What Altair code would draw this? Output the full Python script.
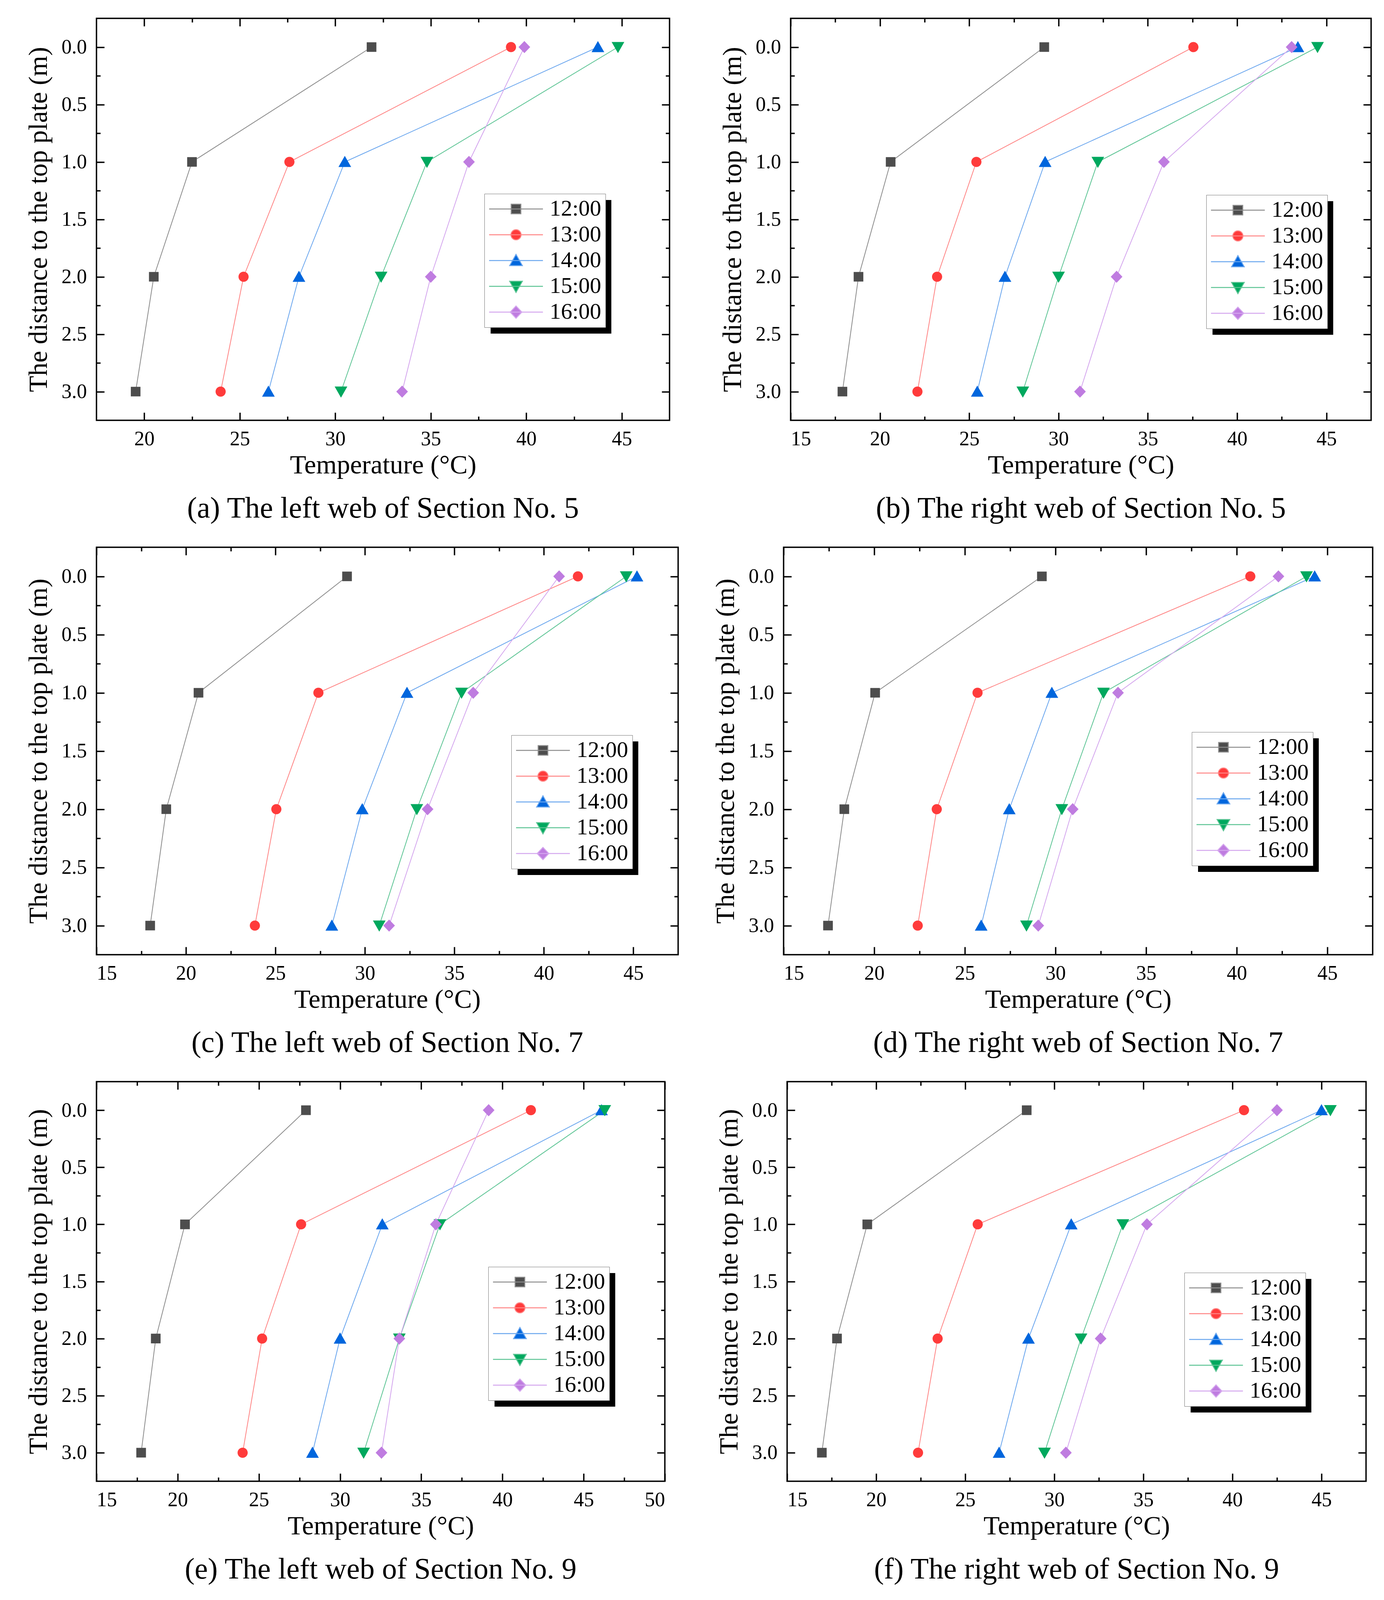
import altair as alt
import pandas as pd

# ---------------- data ----------------
times = ["12:00", "13:00", "14:00", "15:00", "16:00"]
depths = [0.0, 1.0, 2.0, 3.0]

# (a) left web, Section No. 5
a_vals = [
    [31.9, 22.5, 20.5, 19.55],
    [39.2, 27.6, 25.2, 24.0],
    [43.75, 30.5, 28.1, 26.5],
    [44.8, 34.8, 32.4, 30.3],
    [39.9, 37.0, 35.0, 33.5],
]
# (b) right web, Section No. 5
b_vals = [
    [29.2, 20.6, 18.8, 17.9],
    [37.55, 25.4, 23.2, 22.1],
    [43.4, 29.25, 27.0, 25.45],
    [44.5, 32.2, 30.0, 28.0],
    [43.05, 35.9, 33.25, 31.2],
]
# (c) left web, Section No. 7
c_vals = [
    [29.0, 20.7, 18.9, 18.0],
    [41.9, 27.4, 25.05, 23.85],
    [45.2, 32.35, 29.85, 28.15],
    [44.6, 35.4, 32.9, 30.8],
    [40.85, 36.05, 33.5, 31.35],
]
# (d) right web, Section No. 7
d_vals = [
    [29.25, 20.05, 18.35, 17.45],
    [40.75, 25.7, 23.45, 22.4],
    [44.3, 29.8, 27.45, 25.9],
    [43.85, 32.65, 30.35, 28.4],
    [42.3, 33.45, 30.95, 29.05],
]
# (e) left web, Section No. 9
e_vals = [
    [27.9, 20.45, 18.65, 17.75],
    [41.75, 27.6, 25.2, 24.0],
    [46.1, 32.6, 30.0, 28.3],
    [46.3, 36.15, 33.65, 31.45],
    [39.15, 35.9, 33.65, 32.55],
]
# (f) right web, Section No. 9
f_vals = [
    [28.45, 19.5, 17.8, 16.95],
    [40.65, 25.7, 23.45, 22.35],
    [45.0, 30.95, 28.55, 26.9],
    [45.5, 33.85, 31.5, 29.45],
    [42.5, 35.2, 32.6, 30.65],
]

captions = [
    "(a) The left web of Section No. 5",
    "(b) The right web of Section No. 5",
    "(c) The left web of Section No. 7",
    "(d) The right web of Section No. 7",
    "(e) The left web of Section No. 9",
    "(f) The right web of Section No. 9",
]

x_major_a = [20, 25, 30, 35, 40, 45]
x_minor_a = [22.5, 27.5, 32.5, 37.5, 42.5]
x_major_std = [15, 20, 25, 30, 35, 40, 45]
x_minor_std = [17.5, 22.5, 27.5, 32.5, 37.5, 42.5]
x_major_e = [15, 20, 25, 30, 35, 40, 45, 50]
x_minor_e = [17.5, 22.5, 27.5, 32.5, 37.5, 42.5, 47.5]
y_major = [0.0, 0.5, 1.0, 1.5, 2.0, 2.5, 3.0]
y_minor = [0.25, 0.75, 1.25, 1.75, 2.25, 2.75]

# ---------------- styles ----------------
FONT = "Liberation Serif"
marker_fill = ["#4d4d4d", "#ff3b3b", "#0066dd", "#00a85e", "#bf7ce0"]
line_color = ["#8c8c8c", "#ff8585", "#6aa6ee", "#5cc494", "#d4a6ee"]
SEG = "M-5.3,0H5.3"
shape_paths = [
    "M-0.95,-0.95H0.95V0.95H-0.95Z" + SEG,
    "M-1,0A1,1,0,1,1,1,0A1,1,0,1,1,-1,0Z" + SEG,
    "M0,-1.2L1.25,1L-1.25,1Z" + SEG,
    "M0,1.2L1.25,-1L-1.25,-1Z" + SEG,
    "M0,-1.2L1.15,0L0,1.2L-1.15,0Z" + SEG,
]
SYM = 676
LEG_FONT = 58
LEG_W, LEG_H = 309, 342
SHADOW = 16


def panel(vals, caption, xdom, xmajor, xminor, w, h, lx, ly):
    rows = []
    for t, series in zip(times, vals):
        for d, v in zip(depths, series):
            rows.append({"time": t, "depth": d, "temp": v})
    df = pd.DataFrame(rows)
    base = alt.Chart(df)

    xs = alt.Scale(domain=xdom, nice=False, zero=False)
    ys = alt.Scale(domain=[-0.25, 3.25], reverse=True, nice=False, zero=False)
    fill_s = alt.Scale(domain=times, range=marker_fill)
    stroke_s = alt.Scale(domain=times, range=line_color)
    shape_s = alt.Scale(domain=times, range=shape_paths)

    ax_b = alt.Axis(orient="bottom", offset=-20, tickSize=20, values=xmajor, format="d",
                    labelPadding=22, title="Temperature (\u00b0C)", titlePadding=8)
    ax_l = alt.Axis(orient="left", offset=-20, tickSize=20, values=y_major, format=".1f",
                    labelPadding=25, title="The distance to the top plate (m)", titlePadding=24)
    ax_t = alt.Axis(orient="top", offset=-20, tickSize=20, values=xmajor, labels=False, title=None)
    ax_r = alt.Axis(orient="right", offset=-20, tickSize=20, values=y_major, labels=False, title=None)
    ax_bm = alt.Axis(orient="bottom", offset=-10, tickSize=10, values=xminor, labels=False, title=None)
    ax_lm = alt.Axis(orient="left", offset=-10, tickSize=10, values=y_minor, labels=False, title=None)
    ax_tm = alt.Axis(orient="top", offset=-10, tickSize=10, values=xminor, labels=False, title=None)
    ax_rm = alt.Axis(orient="right", offset=-10, tickSize=10, values=y_minor, labels=False, title=None)

    leg = alt.Legend(orient="none", legendX=lx, legendY=ly, direction="vertical", title=None,
                     labelFont=FONT, labelFontSize=LEG_FONT, labelColor="black", labelLimit=500,
                     symbolSize=SYM, symbolOffset=42, labelOffset=57, padding=10,
                     rowPadding=8, fillColor="white", strokeColor="#777777",
                     symbolStrokeWidth=2.5, symbolOpacity=1)

    # legend-only layer (no data drawn); placed first so its legend settings win
    legend_layer = base.transform_filter("false").mark_point(
        filled=True, size=SYM, opacity=1, strokeWidth=2.5).encode(
        x=alt.X("temp:Q", scale=xs, axis=ax_bm),
        y=alt.Y("depth:Q", scale=ys, axis=ax_lm),
        fill=alt.Fill("time:N", scale=fill_s, legend=leg),
        stroke=alt.Stroke("time:N", scale=stroke_s, legend=leg),
        shape=alt.Shape("time:N", scale=shape_s, legend=leg),
    )
    shadow = alt.Chart(alt.Data(values=[{"s": 1}])).mark_rect(color="black").encode(
        x=alt.value(lx + SHADOW), x2=alt.value(lx + SHADOW + LEG_W),
        y=alt.value(ly + SHADOW), y2=alt.value(ly + SHADOW + LEG_H))

    lines = base.mark_line(strokeWidth=2).encode(
        x=alt.X("temp:Q", scale=xs, axis=ax_b),
        y=alt.Y("depth:Q", scale=ys, axis=ax_l),
        stroke=alt.Stroke("time:N", scale=stroke_s),
        order=alt.Order("depth:Q"),
    )
    points = base.mark_point(filled=True, size=SYM, opacity=1, strokeWidth=0).encode(
        x=alt.X("temp:Q", scale=xs, axis=ax_t),
        y=alt.Y("depth:Q", scale=ys, axis=ax_r),
        fill=alt.Fill("time:N", scale=fill_s),
        shape=alt.Shape("time:N", scale=shape_s),
    )
    minor2 = base.transform_filter("false").mark_point().encode(
        x=alt.X("temp:Q", scale=xs, axis=ax_tm),
        y=alt.Y("depth:Q", scale=ys, axis=ax_rm),
    )
    return alt.layer(legend_layer, shadow, lines, points, minor2).resolve_axis(
        x="independent", y="independent"
    ).properties(
        width=w, height=h,
        title=alt.TitleParams(caption, orient="bottom", offset=40, fontSize=76,
                              font=FONT, fontWeight="normal", color="black", anchor="middle"),
    )


pa = panel(a_vals, captions[0], [17.5, 47.5], x_major_a, x_minor_a, 1467, 1029, 993, 449)
pb = panel(b_vals, captions[1], [15, 47.5], x_major_std, x_minor_std, 1486, 1029, 1064, 452)
pc = panel(c_vals, captions[2], [15, 47.5], x_major_std, x_minor_std, 1489, 1043, 1062, 481)
pd_ = panel(d_vals, captions[3], [15, 47.5], x_major_std, x_minor_std, 1508, 1043, 1045, 473)
pe = panel(e_vals, captions[4], [15, 50], x_major_e, x_minor_e, 1455, 1023, 1003, 474)
pf = panel(f_vals, captions[5], [15, 47.5], x_major_std, x_minor_std, 1482, 1023, 1017, 489)

ind = dict(fill="independent", stroke="independent", shape="independent")

row1 = alt.hconcat(pa, pb, spacing=122).resolve_scale(**ind).resolve_legend(**ind)
row2 = alt.hconcat(pc, pd_, spacing=82).resolve_scale(**ind).resolve_legend(**ind)
row3 = alt.hconcat(pe, pf, spacing=125).resolve_scale(**ind).resolve_legend(**ind)

chart = alt.vconcat(row1, row2, row3, spacing=55).resolve_scale(**ind).resolve_legend(**ind).properties(
    padding={"left": 55, "top": 35, "right": 10, "bottom": 5}
).configure_view(
    stroke="black", strokeWidth=3.5
).configure_axis(
    labelFont=FONT, labelFontSize=52, labelColor="black",
    titleFont=FONT, titleFontSize=68, titleFontWeight="normal", titleColor="black",
    tickColor="black", tickWidth=3.5, grid=False, domain=False,
).configure_title(
    font=FONT, fontSize=76, fontWeight="normal", color="black"
)

chart.save("out.html", embed_options={"renderer": "svg", "actions": False})
